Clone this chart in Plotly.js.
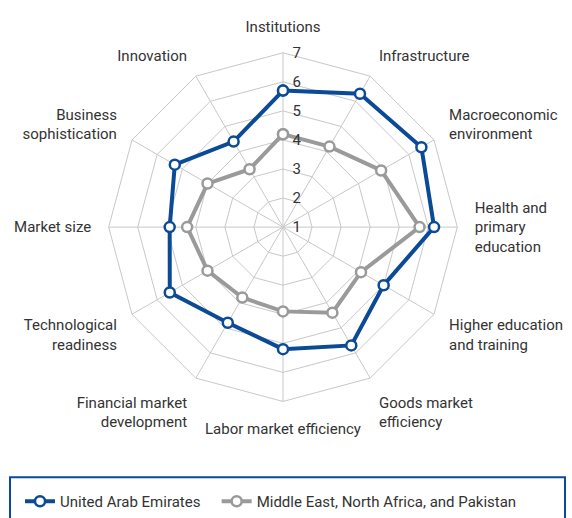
<!DOCTYPE html>
<html>
<head>
<meta charset="utf-8">
<script src="https://cdn.plot.ly/plotly-3.0.1.min.js"></script>
<style>
  html, body { margin: 0; padding: 0; background: #fff; }
  #chart { width: 572px; height: 518px; }
</style>
</head>
<body>
<div id="chart"></div>
<script>
let categories = [
    'Institutions', 'Infrastructure', 'Macroeconomic<br>environment',
    'Health and<br>primary<br>education', 'Higher education<br>and training',
    'Goods market<br>efficiency', 'Labor market efficiency',
    'Financial market<br>development', 'Technological<br>readiness',
    'Market size', 'Business<br>sophistication', 'Innovation'
];
let uaeValues  = [5.7, 6.3, 6.5, 6.2, 5.0, 5.7, 5.2, 4.8, 5.5, 4.9, 5.3, 4.4];
let menaValues = [4.2, 4.2, 4.9, 5.7, 4.1, 4.4, 3.9, 3.8, 4.0, 4.3, 4.0, 3.3];
let tickValues = [1, 2, 3, 4, 5, 6, 7];

let seriesNames = ['United Arab Emirates', 'Middle East, North Africa, and Pakistan'];
let seriesColors = ['#0b4a97', '#9a9a9a'];

let fontFamily = 'Roboto, "Liberation Sans", sans-serif';

// close the polygon by repeating the first point
function closed(arr) {
    return arr.concat([arr[0]]);
}

let first = {
    type: 'scatterpolar',
    r: closed(uaeValues),
    theta: closed(categories),
    mode: 'lines+markers',
    // non-breaking spaces widen the gap to the next legend item
    name: seriesNames[0] + '\u00a0\u00a0\u00a0',
    line: { color: seriesColors[0], width: 4 },
    marker: { symbol: 'circle', size: 10, color: '#ffffff', line: { color: seriesColors[0], width: 2.5 } },
    cliponaxis: false
};

let second = {
    type: 'scatterpolar',
    r: closed(menaValues),
    theta: closed(categories),
    mode: 'lines+markers',
    name: seriesNames[1],
    line: { color: seriesColors[1], width: 4 },
    marker: { symbol: 'circle', size: 10, color: '#ffffff', line: { color: seriesColors[1], width: 2.5 } },
    cliponaxis: false
};

let layout = {
    width: 572,
    height: 518,
    margin: { l: 0, r: 0, t: 0, b: 0 },
    paper_bgcolor: '#ffffff',
    font: { family: fontFamily, size: 15, color: '#333333' },
    showlegend: true,
    legend: {
        orientation: 'h',
        x: 0.035,
        xanchor: 'left',
        y: 0.028,
        yanchor: 'middle',
        font: { family: fontFamily, size: 15, color: '#333333' },
        bgcolor: 'rgba(0,0,0,0)'
    },
    polar: {
        domain: { x: [0.1888, 0.8007], y: [0.222, 0.8977] },
        bgcolor: '#ffffff',
        gridshape: 'linear',
        angularaxis: {
            rotation: 90,
            direction: 'clockwise',
            type: 'category',
            categoryorder: 'array',
            categoryarray: categories,
            showline: true,
            linecolor: '#c8c8c8',
            linewidth: 1,
            gridcolor: '#c8c8c8',
            gridwidth: 1,
            ticks: 'outside',
            ticklen: 14,
            tickcolor: 'rgba(0,0,0,0)',
            tickfont: { family: fontFamily, size: 15, color: '#333333' }
        },
        radialaxis: {
            range: [1, 7],
            tickvals: tickValues,
            ticktext: tickValues.map(String),
            angle: 90,
            tickangle: 90,
            side: 'clockwise',
            showline: false,
            ticks: 'outside',
            ticklen: 6,
            tickcolor: 'rgba(0,0,0,0)',
            gridcolor: '#c8c8c8',
            gridwidth: 1,
            tickfont: { family: fontFamily, size: 15, color: '#333333' }
        }
    },
    shapes: [{
        type: 'rect',
        xref: 'paper',
        yref: 'paper',
        x0: 10 / 572,
        x1: 565 / 572,
        y0: -0.05,
        y1: 1 - 479 / 518,
        line: { color: '#0b4a97', width: 2 },
        fillcolor: 'rgba(0,0,0,0)'
    }]
};

Plotly.newPlot('chart', [first, second], layout, { displayModeBar: false, staticPlot: true });
</script>
</body>
</html>
